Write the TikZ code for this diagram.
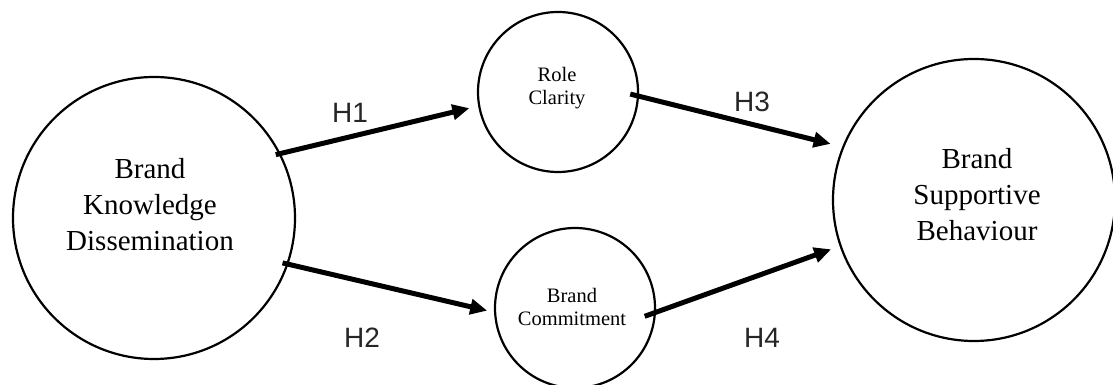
\documentclass[tikz,border=0pt]{standalone}
\usepackage{fontspec}
\setmainfont{Liberation Serif}
\newfontfamily\hfont{Liberation Sans}
\usetikzlibrary{arrows.meta}
\tikzset{
  circ/.style={circle, draw, line width=2.2pt, inner sep=0pt},
  bigtxt/.style={align=center, font=\fontsize{29}{36}\selectfont, inner sep=0pt},
  smalltxt/.style={align=center, font=\fontsize{20.5}{23}\selectfont, inner sep=0pt},
  hlab/.style={font=\hfont\fontsize{28}{30}\selectfont, text=black!85, inner sep=0pt},
  conn/.style={line width=5pt, -{Triangle[length=17pt,width=15pt]}},
}
\begin{document}
\begin{tikzpicture}[x=1pt,y=1pt]
\useasboundingbox (0,0) rectangle (1113,385);
% circles
\node[circ, minimum size=282pt] (L) at (154,167) {};
\node[circ, minimum size=160pt] (T) at (558,293) {};
\node[circ, minimum size=160pt] (B) at (575,77) {};
\node[circ, minimum size=282pt] (R) at (974,185) {};
% texts
\node[bigtxt] (Lt) at (150,180) {Brand\\Knowledge\\Dissemination};
\node[bigtxt] (Rt) at (977,190) {Brand\\Supportive\\Behaviour};
\node[smalltxt] (Tt) at (557,297) {Role\\Clarity};
\node[smalltxt] (Bt) at (572,78.5) {Brand\\Commitment};
% connectors
\draw[conn, shorten <=-5pt, shorten >=9pt] (L.27) -- (T.190);
\draw[conn, shorten <=-6pt, shorten >=7pt] (L.-19) -- (B.183);
\draw[conn, shorten <=-9pt, shorten >=12pt] (T.-3) -- (R.158);
\draw[conn, shorten <=-12pt, shorten >=9pt] (B.-3) -- (R.199);
% labels
\node[hlab] (h1) at (350,272) {H1};
\node[hlab] (h2) at (362,47) {H2};
\node[hlab] (h3) at (752,283) {H3};
\node[hlab] (h4) at (762,47) {H4};
\end{tikzpicture}
\end{document}
